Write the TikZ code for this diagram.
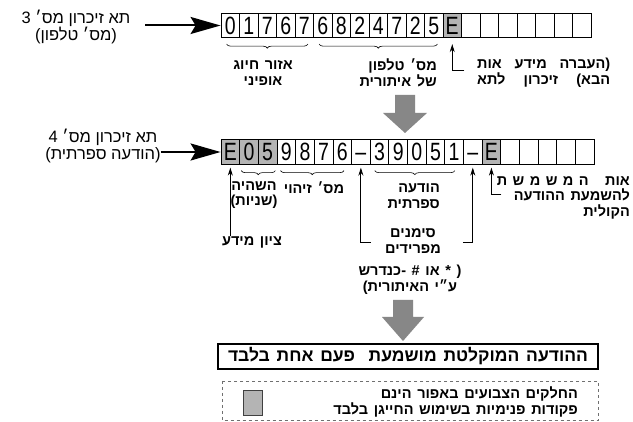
\documentclass[tikz,border=0pt]{standalone}
\usepackage{fontspec}
\usepackage{graphicx}
\setmainfont{Liberation Sans}
\newfontfamily\hr[Script=Hebrew]{Liberation Sans}
\newfontfamily\hb[Script=Hebrew,WordSpace=1.4]{Liberation Sans Bold}
\TeXXeTstate=1
\usetikzlibrary{arrows.meta,decorations.pathreplacing,calc}
\newcommand\heb[1]{\beginR#1\endR}
\newcommand\hebw[1]{\hbox to 133pt{\beginR#1\endR}}
\newcommand\wline[1]{\hbox to 133pt{#1}}
\newcommand\dg[1]{\scalebox{0.78}[1]{#1}}
\definecolor{cellgray}{HTML}{B4B4B4}
\definecolor{arrgray}{HTML}{878787}
\definecolor{dashgray}{HTML}{707070}
\begin{document}
\begin{tikzpicture}[x=1pt,y=-1pt,
  cell/.style={draw, line width=0.8pt, minimum width=18.5pt, minimum height=24.5pt, inner sep=0pt, text height=17.9pt, text depth=0pt, font=\fontsize{25}{25}\selectfont},
  cellb/.style={cell, minimum width=18.65pt},
  lab/.style={font=\hb\fontsize{14.5}{15.5}\selectfont, inner sep=0pt},
  side/.style={font=\hr\fontsize{16.5}{16.5}\selectfont, inner sep=0pt, align=center},
  brc/.style={decorate, decoration={brace, mirror, amplitude=4pt}, line width=0.6pt},
  conn/.style={line width=0.8pt, -{Stealth[length=8pt,width=5pt]}},
  bigarr/.style={line width=2pt, -{Stealth[length=30pt,width=17pt,inset=5pt]}}
]
\useasboundingbox (0,0) rectangle (633,422);
\fill[white] (0,0) rectangle (633,422);

% row 1 cells
\foreach \t/\f [count=\i from 0] in {0/white,1/white,7/white,6/white,7/white,6/white,8/white,2/white,4/white,7/white,2/white,5/white,E/cellgray,{}/white,{}/white,{}/white,{}/white,{}/white,{}/white,{}/white}
  \node[cell, fill=\f] (a\i) at ({230.25+18.5*\i},25.5) {\dg{\t}};

% row 2 cells
\foreach \t/\f [count=\i from 0] in {E/cellgray,0/cellgray,5/cellgray,9/white,8/white,7/white,6/white,\textendash/white,3/white,9/white,0/white,5/white,1/white,\textendash/white,E/cellgray,{}/white,{}/white,{}/white,{}/white,{}/white}
  \node[cellb, fill=\f] (b\i) at ({230.33+18.65*\i},152) {\dg{\t}};

% row 1 side label
\node[side] (L1) at (76,27) {\heb{תא זיכרון מס׳ 3}\\\heb{(מס׳ טלפון)}};
\coordinate (L1e) at (145,25.5);
\draw[bigarr] (L1e) -- (a0.west);

% row 1 braces and labels
\draw[brc] ($(a0.south west)+(6,6)$) -- ($(a4.south east)+(-6,6)$);
\draw[brc] ($(a5.south west)+(6,6)$) -- ($(a11.south east)+(-6,6)$);
\node[lab, align=center] (z1) at (263,73) {\heb{אזור חיוג}\\\heb{אופיני}};
\node[lab, align=right, anchor=east] (z2) at (437,73) {\heb{מס׳ טלפון}\\\heb{של איתורית}};
\node[lab, align=left, anchor=west] (z3) at (477,73) {\wline{אות\hfil מידע\hfil (העברה}\\\wline{לתא\hfil זיכרון\hfil הבא)}};
\coordinate (e1k) at ($(a12.south)+(0,32.25)$);
\draw[conn] ($(e1k)+(12,0)$) -- (e1k) -- ($(a12.south)+(0,6)$);

% gray arrow 1
\fill[arrgray] (395,95) -- (415,95) -- (415,113) -- (427,113) -- (405,133) -- (383,113) -- (395,113) -- cycle;

% row 2 side label
\node[side] (L2) at (103,146) {\heb{תא זיכרון מס׳ 4}\\\heb{(הודעה ספרתית)}};
\draw[bigarr] (L2.east |- b0.west) -- (b0.west);

% row 2 braces and labels
\draw[brc] ($(b1.south west)+(2,6)$) -- ($(b2.south east)+(-2,6)$);
\draw[brc] ($(b3.south west)+(4,6)$) -- ($(b6.south east)+(-8,6)$);
\draw[brc] ($(b8.south west)+(5,6)$) -- ($(b12.south east)+(-9,6)$);
\node[lab, align=center] (s1) at (254,195) {\heb{השהיה}\\\heb{(שניות)}};
\node[lab] (s2) at (314,188) {\heb{מס׳ זיהוי}};
\node[lab, align=right, anchor=east] (s3) at (440,196) {\heb{הודעה}\\\heb{ספרתית}};
\node[lab, align=right, anchor=north east] (s4) at (630,176) {\hebw{אות\hfil\hfil\hfil ה\hfil מ\hfil ש\hfil מ\hfil ש\hfil ת}\\\heb{להשמעת ההודעה}\\\heb{הקולית}};
\coordinate (e2k) at ($(b14.south)+(0,30)$);
\draw[conn] ($(e2k)+(10,0)$) -- (e2k) -- ($(b14.south)+(0,3)$);

\node[lab] (zy) at (252,242) {\heb{ציון מידע}};
\draw[conn] (zy.north -| b0.south) -- ($(b0.south)+(0,3)$);

\node[lab, align=center] (sm) at (413,241) {\heb{סימנים}\\\heb{מפרידים}};
\coordinate (k1) at ($(b7.south)+(0,78)$);
\coordinate (k2) at ($(b13.south)+(0,78)$);
\draw[conn] ($(k1)+(10,0)$) -- (k1) -- ($(b7.south)+(0,3)$);
\draw[conn] ($(k2)+(-10,0)$) -- (k2) -- ($(b13.south)+(0,3)$);

\node[lab, align=center] (nt) at (410,280) {\heb{( * או \# -כנדרש}\\\heb{ע״י האיתורית)}};

% gray arrow 2
\fill[arrgray] (393,300) -- (413,300) -- (413,317) -- (424,317) -- (403,341) -- (382,317) -- (393,317) -- cycle;

% message box
\node[draw, line width=1.3pt, minimum width=380pt, minimum height=25pt, inner sep=0pt, font=\hb\fontsize{17.5}{17.5}\selectfont] (msg) at (408,356.5) {\heb{ההודעה המוקלטת מושמעת\ \ פעם אחת בלבד}};

% legend
\draw[dashed, dashgray, line width=0.8pt] (222,381) rectangle (598,420.5);
\node[draw=black!75, line width=0.8pt, fill=cellgray, minimum width=19pt, minimum height=25pt, inner sep=0pt] (sq) at (252.5,402.5) {};
\node[lab, align=right, anchor=east] (lg) at (578,402) {\heb{החלקים הצבועים באפור הינם}\\\heb{פקודות פנימיות בשימוש החייגן בלבד}};
\end{tikzpicture}
\end{document}
